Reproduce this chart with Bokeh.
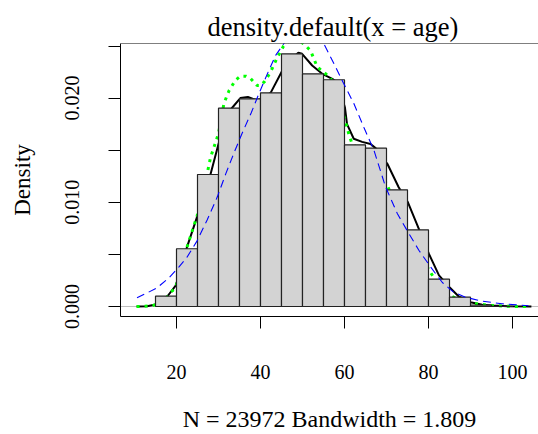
from bokeh.plotting import figure
from bokeh.models import Range1d, FixedTicker, Span
from bokeh.embed import file_html
from bokeh.resources import INLINE

# ---- data ----
bin_edges = [15, 20, 25, 30, 35, 40, 45, 50, 55, 60, 65, 70, 75, 80, 85, 90, 95, 100]
bin_density = [0.00099, 0.00554, 0.01267, 0.01903, 0.01993, 0.02051, 0.02425, 0.02233,
               0.02176, 0.01552, 0.01519, 0.01120, 0.00736, 0.00262, 0.00089, 0.00013, 0.00002]

kde_x = [10.5, 13, 15, 16.5, 17.8, 19.8, 21, 22.5, 24.9, 26.5, 28.1, 30, 31.5, 33.1, 35.2, 37,
         39, 41, 42.5, 45.2, 47.5, 49, 49.9, 52.3, 54.7, 57.1, 58.5, 60.1, 60.6, 62.2, 64.2,
         66.2, 67.4, 70.2, 72.9, 75.1, 77.7, 80.1, 82.5, 85, 87.2, 90, 92.8, 95.2, 99, 104.5]
kde_y = [0.0, 0.00003, 0.0002, 0.0005, 0.00096, 0.0020, 0.0035, 0.0057, 0.0086, 0.0105, 0.0127,
         0.0156, 0.0176, 0.0190, 0.0200, 0.0201, 0.0198, 0.0200, 0.02057, 0.02265, 0.0238,
         0.02435, 0.02425, 0.02313, 0.02233, 0.02185, 0.0214, 0.0191, 0.0175, 0.0161, 0.0158,
         0.0156, 0.0152, 0.0137, 0.01145, 0.0100, 0.00745, 0.00505, 0.00298, 0.00185, 0.00096,
         0.00041, 0.00016, 0.0001, 0.00003, 0.0]

green_x = [10.5, 14, 16, 17.5, 19, 19.8, 21, 22.5, 24.9, 26.5, 28.1, 30, 31.3, 32.5, 34, 35.2,
           36.5, 37.6, 39.2, 40, 41, 42.4, 44, 45.5, 47, 48.5, 50.3, 51.9, 53.5, 55.9, 57.5, 59,
           61, 61.8, 63.5, 65, 67.5, 70.2, 72.5, 75, 77.5, 80.1, 82.5, 85.2, 87.5, 90, 95, 100, 104]
green_y = [0.0, 0.00005, 0.0003, 0.0008, 0.0015, 0.00185, 0.0033, 0.0057, 0.0087, 0.0112, 0.0143,
           0.0166, 0.0195, 0.0207, 0.0217, 0.0221, 0.0221, 0.0219, 0.0212, 0.0212, 0.0216, 0.0225,
           0.0239, 0.0250, 0.0256, 0.0257, 0.0252, 0.02457, 0.0230, 0.0222, 0.0215, 0.0195,
           0.0166, 0.0156, 0.0151, 0.0149, 0.0138, 0.0116, 0.0095, 0.0075, 0.0055, 0.0035,
           0.0020, 0.00105, 0.0006, 0.0003, 0.0001, 0.0, 0.0]

blue_x = [10.6, 13, 15.4, 18.2, 20.6, 22.5, 24.9, 27.3, 29.7, 31.7, 33.6, 35.6, 37.8, 39.6, 41.6,
          43.6, 45.5, 47.5, 50.3, 53, 55.1, 57.5, 59.8, 62.2, 64.6, 67, 69.8, 72.6, 74.9, 77.7,
          80.5, 83.3, 86, 88.8, 92.8, 97.5, 103.8]
blue_y = [0.00083, 0.0013, 0.0018, 0.00275, 0.0038, 0.00473, 0.0063, 0.0083, 0.0105, 0.0127,
          0.01465, 0.0166, 0.0186, 0.0204, 0.0223, 0.0241, 0.0252, 0.0261, 0.0265, 0.0260,
          0.0252, 0.0233, 0.0214, 0.0195, 0.0172, 0.0150, 0.01145, 0.0089, 0.0073, 0.0054,
          0.0038, 0.0023, 0.00137, 0.00089, 0.00051, 0.00026, 0.00007]

x_ticks = [20, 40, 60, 80, 100]
y_ticks = [0.0, 0.005, 0.01, 0.015, 0.02, 0.025]
y_tick_labels = ["0.000", "", "0.010", "", "0.020", ""]

title_text = "density.default(x = age)"
x_label = "N = 23972 Bandwidth = 1.809"
y_label = "Density"

FONT = "Liberation Serif"
X_MIN, X_MAX = 6.667, 106.19
Y_MIN, Y_MAX = -0.00096, 0.02524

p = figure(width=538, height=434, output_backend="svg", toolbar_location=None,
           x_range=Range1d(X_MIN, X_MAX), y_range=Range1d(Y_MIN, Y_MAX),
           min_border_left=120, min_border_right=0, min_border_top=43, min_border_bottom=118,
           title=title_text)
p.outline_line_color = None
p.grid.visible = False
p.background_fill_color = "white"
p.border_fill_color = "white"

p.title.align = "left"
p.title.offset = 87
p.title.text_font = FONT
p.title.text_font_size = "26.5px"
p.title.text_font_style = "normal"
p.title.text_color = "black"
p.title.standoff = 4

# zero line (under everything)
p.add_layout(Span(location=0, dimension="width", line_color="#BEBEBE", line_width=1, level="underlay"))

# density curves drawn before the histogram
p.line(kde_x, kde_y, line_color="black", line_width=2)
p.line(green_x, green_y, line_color="#00FF00", line_width=3, line_dash="3 5")

# histogram
p.quad(left=bin_edges[:-1], right=bin_edges[1:], bottom=0, top=bin_density,
       fill_color="#D3D3D3", line_color="#222222", line_width=1.2)

# blue dashed curve over the bars
p.line(blue_x, blue_y, line_color="#0000FF", line_width=1.1, line_dash="8 5")

# top border of the box
p.add_layout(Span(location=Y_MAX, dimension="width", line_color="black", line_width=1))

xa = p.xaxis[0]
xa.ticker = FixedTicker(ticks=x_ticks)
xa.axis_label = x_label
ya = p.yaxis[0]
ya.ticker = FixedTicker(ticks=y_ticks)
ya.major_label_overrides = {t: l for t, l in zip(y_ticks, y_tick_labels)}
ya.major_label_orientation = "vertical"
ya.axis_label = y_label

for ax in (xa, ya):
    ax.axis_line_color = "black"
    ax.axis_line_width = 1
    ax.major_tick_line_color = "black"
    ax.major_tick_out = 12
    ax.major_tick_in = 0
    ax.minor_tick_line_color = None
    ax.major_label_text_font = FONT
    ax.major_label_text_font_size = "20px"
    ax.major_label_text_color = "black"
    ax.axis_label_text_font = FONT
    ax.axis_label_text_font_size = "23px"
    ax.axis_label_text_font_style = "normal"
    ax.axis_label_text_color = "black"

xa.axis_label_text_font_size = "24px"
xa.major_label_standoff = 36
xa.axis_label_standoff = 24
ya.major_label_standoff = 29
ya.axis_label_standoff = 28

open("out.html", "w").write(file_html(p, INLINE))
